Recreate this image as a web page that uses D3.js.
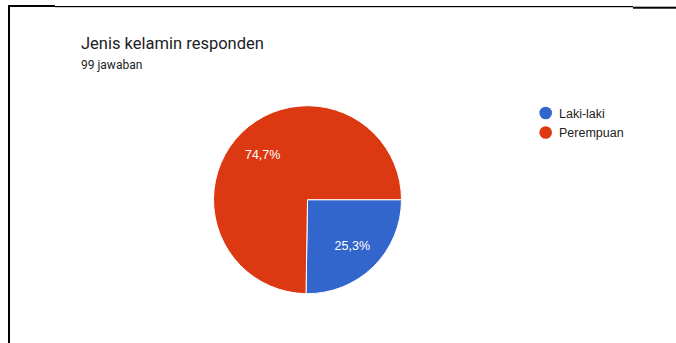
<!DOCTYPE html>
<html>
<head>
<meta charset="utf-8">
<script src="https://cdn.jsdelivr.net/npm/d3@7"></script>
<style>
html,body{margin:0;padding:0;background:#fff;}
svg{display:block;}
</style>
</head>
<body>
<svg id="chart" width="676" height="343"></svg>
<script>
const categories = ["Laki-laki", "Perempuan"];
const counts = [25, 74];
const percentLabels = ["25,3%", "74,7%"];
const colors = ["#3366CC", "#DC3912"];
const title = "Jenis kelamin responden";
const subtitle = "99 jawaban";

const svg = d3.select("#chart");

// frame lines (screenshot crop edges)
svg.append("rect").attr("x", 8).attr("y", 5).attr("width", 2).attr("height", 338).attr("fill", "#000");
svg.append("rect").attr("x", 8).attr("y", 5).attr("width", 47).attr("height", 2).attr("fill", "#000");
svg.append("rect").attr("x", 55).attr("y", 6).attr("width", 578).attr("height", 1.2).attr("fill", "#000");
svg.append("rect").attr("x", 633).attr("y", 6.7).attr("width", 43).attr("height", 2).attr("fill", "#000");

svg.append("text").attr("x", 81).attr("y", 49.3)
  .attr("font-family", "Roboto, sans-serif").attr("font-size", 16.5)
  .attr("fill", "#202124").text(title);
svg.append("text").attr("x", 81).attr("y", 69.3)
  .attr("font-family", "Roboto, sans-serif").attr("font-size", 12)
  .attr("fill", "#202124").text(subtitle);

const cx = 307.5, cy = 199.7, R = 94;
const data = categories.map((c, i) => ({cat: c, value: counts[i], label: percentLabels[i], color: colors[i]}));
const pie = d3.pie().value(d => d.value).sort(null)
  .startAngle(Math.PI / 2).endAngle(Math.PI / 2 + 2 * Math.PI);
const arcs = pie(data);
const arc = d3.arc().innerRadius(0).outerRadius(R);
const labelArc = d3.arc().innerRadius(R * 0.68).outerRadius(R * 0.68);

const g = svg.append("g").attr("transform", `translate(${cx},${cy})`);
g.selectAll("path").data(arcs).join("path")
  .attr("d", arc).attr("fill", d => d.data.color)
  .attr("stroke", "#fff").attr("stroke-width", 1);
g.selectAll("text").data(arcs).join("text")
  .attr("transform", d => `translate(${labelArc.centroid(d)})`)
  .attr("text-anchor", "middle").attr("dy", "0.35em")
  .attr("font-family", "Arial, 'Liberation Sans', sans-serif").attr("font-size", 12.5)
  .attr("fill", "#fff").text(d => d.data.label);

// legend
const legY = d3.scalePoint().domain(categories).range([113, 132.5]);
const leg = svg.append("g");
leg.selectAll("circle").data(data).join("circle")
  .attr("cx", 545.7).attr("cy", d => legY(d.cat)).attr("r", 6.3)
  .attr("fill", d => d.color);
leg.selectAll("text").data(data).join("text")
  .attr("x", 559).attr("y", d => legY(d.cat)).attr("dy", "0.36em")
  .attr("font-family", "Arial, 'Liberation Sans', sans-serif").attr("font-size", 12.5)
  .attr("fill", "#222").text(d => d.cat);
</script>
</body>
</html>
